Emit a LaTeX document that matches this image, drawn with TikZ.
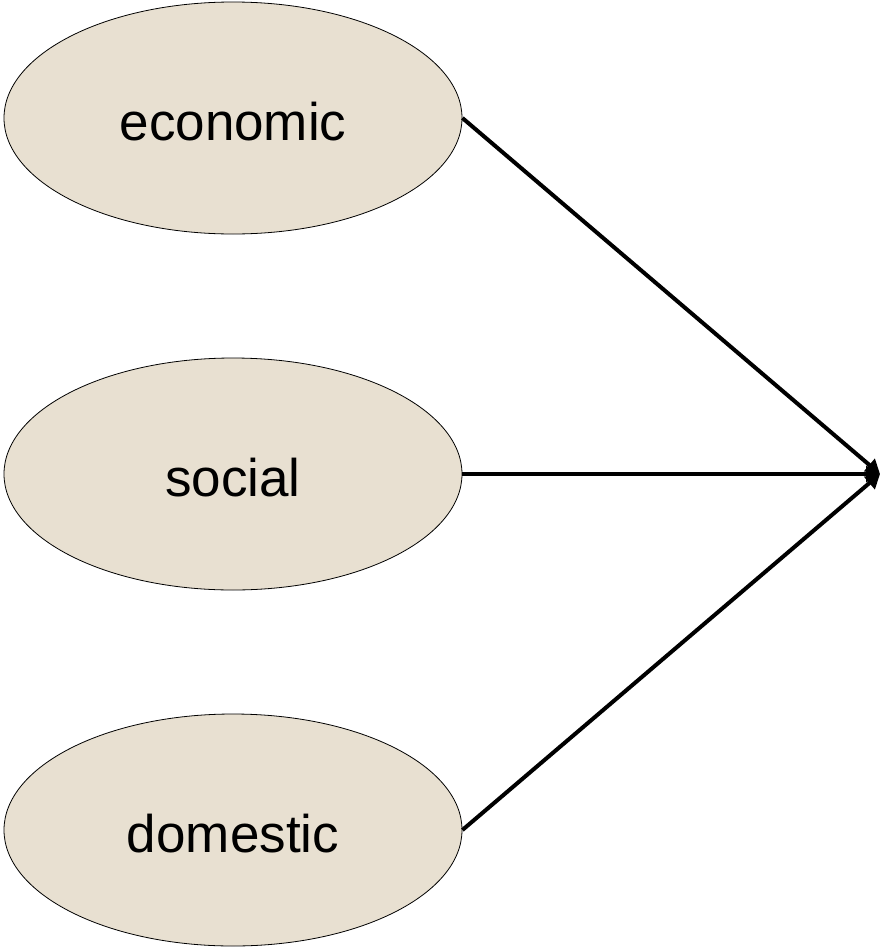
\documentclass[tikz,border=0pt]{standalone}
\usepackage{fontspec}
\setmainfont{Liberation Sans}
\usetikzlibrary{shapes.geometric,arrows.meta}
\definecolor{fillbeige}{RGB}{232,224,209}
\tikzset{
  oval/.style={ellipse, draw=black, line width=0.8pt, fill=fillbeige, minimum width=458pt, minimum height=232pt, inner sep=0pt, text height=44pt, text depth=0pt, font=\fontsize{53}{60}\selectfont},
  conn/.style={line width=4pt, -{Triangle[length=14pt,width=16pt]}}
}
\begin{document}
\begin{tikzpicture}[x=1pt,y=-1pt]
\useasboundingbox (0,0) rectangle (881,948);
\node[oval] (eco) at (233,118) {economic};
\node[oval] (soc) at (233,474) {social};
\node[oval] (dom) at (233,830) {domestic};
\coordinate (t) at (880,474);
\draw[conn] (eco.east) -- (t);
\draw[conn] (soc.east) -- (t);
\draw[conn] (dom.east) -- (t);
\end{tikzpicture}
\end{document}
